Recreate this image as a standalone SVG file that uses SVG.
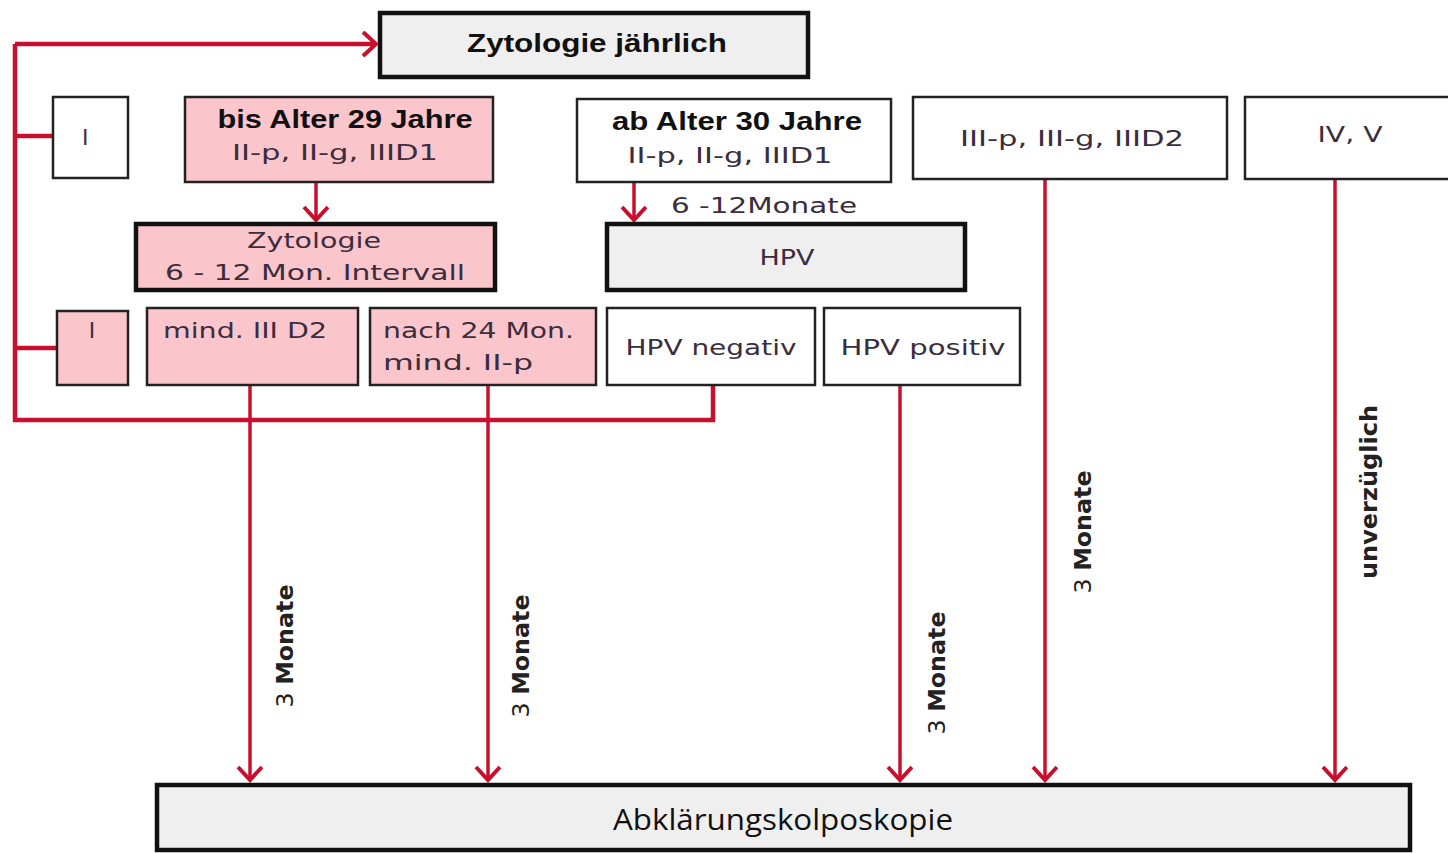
<svg xmlns="http://www.w3.org/2000/svg" width="1448" height="853" viewBox="0 0 1448 853">
<defs>
<marker id="ah" markerUnits="userSpaceOnUse" markerWidth="30" markerHeight="30" refX="15" refY="13" orient="auto" viewBox="0 0 30 30">
<path d="M2,1 L15,13 L2,25" fill="none" stroke="#c8102e" stroke-width="4"/>
</marker>
<style>
.thin{stroke:#222;stroke-width:2.5}
.thick{stroke:#111;stroke-width:4.5}
.pink{fill:#fbc5cc}
.white{fill:#fff}
.gray{fill:#efefef}
.t{font-family:"DejaVu Sans","Liberation Sans",sans-serif;font-size:22px;fill:#3a2e3e}
.b{font-family:"Liberation Sans",sans-serif;font-size:25px;font-weight:bold;fill:#111}
.c{font-family:"Open Sans","Liberation Sans",sans-serif;font-size:29px;fill:#111}
.r{font-family:"DejaVu Sans","Liberation Sans",sans-serif;font-size:23px;fill:#222}
.con{fill:none;stroke:#c8102e;stroke-width:3.5}
.fb{fill:none;stroke:#c8102e;stroke-width:4.5}
</style>
</defs>
<rect width="1448" height="853" fill="#fff"/>

<g id="connectors">
<path class="fb" d="M15,44 H376" marker-end="url(#ah)"/>
<path class="fb" d="M15,44 V420 H713 V385"/>
<path class="fb" d="M15,136 H53"/>
<path class="fb" d="M15,348 H57"/>
<path class="con" d="M316,182 V220" marker-end="url(#ah)"/>
<path class="con" d="M634,182 V220" marker-end="url(#ah)"/>
<path class="con" d="M250,385 V780" marker-end="url(#ah)"/>
<path class="con" d="M488,385 V780" marker-end="url(#ah)"/>
<path class="con" d="M900,385 V780" marker-end="url(#ah)"/>
<path class="con" d="M1045,179 V780" marker-end="url(#ah)"/>
<path class="con" d="M1335,179 V780" marker-end="url(#ah)"/>
<text class="r" transform="translate(293,646) rotate(-90)" text-anchor="middle" textLength="123" lengthAdjust="spacingAndGlyphs">3 <tspan font-weight="bold">Monate</tspan></text>
<text class="r" transform="translate(529,656) rotate(-90)" text-anchor="middle" textLength="123" lengthAdjust="spacingAndGlyphs">3 <tspan font-weight="bold">Monate</tspan></text>
<text class="r" transform="translate(945,673) rotate(-90)" text-anchor="middle" textLength="123" lengthAdjust="spacingAndGlyphs">3 <tspan font-weight="bold">Monate</tspan></text>
<text class="r" transform="translate(1091,532) rotate(-90)" text-anchor="middle" textLength="123" lengthAdjust="spacingAndGlyphs">3 <tspan font-weight="bold">Monate</tspan></text>
<text class="r" transform="translate(1377,492) rotate(-90)" text-anchor="middle" textLength="174" lengthAdjust="spacingAndGlyphs" font-weight="bold">unverzüglich</text>
<text class="t" x="671" y="213" textLength="186" lengthAdjust="spacingAndGlyphs">6 -12Monate</text>
</g>

<g id="zyto-jaehrlich">
<rect class="gray thick" x="380" y="13" width="428" height="64"/>
<text class="b" x="597" y="52" text-anchor="middle" textLength="260" lengthAdjust="spacingAndGlyphs">Zytologie jährlich</text>
</g>

<g id="n-I-top">
<rect class="white thin" x="53" y="97" width="75" height="81"/>
<text class="t" x="82" y="145">I</text>
</g>

<g id="bis29">
<rect class="pink thin" x="185" y="97" width="308" height="85"/>
<text class="b" x="345" y="128" text-anchor="middle" textLength="255" lengthAdjust="spacingAndGlyphs">bis Alter 29 Jahre</text>
<text class="t" x="335" y="160" text-anchor="middle" textLength="206" lengthAdjust="spacingAndGlyphs">II-p, II-g, IIID1</text>
</g>

<g id="zyto-intervall">
<rect class="pink thick" x="136" y="224" width="359" height="66"/>
<text class="t" x="314" y="248" text-anchor="middle" textLength="134" lengthAdjust="spacingAndGlyphs">Zytologie</text>
<text class="t" x="315" y="280" text-anchor="middle" textLength="300" lengthAdjust="spacingAndGlyphs">6 - 12 Mon. Intervall</text>
</g>

<g id="ab30">
<rect class="white thin" x="577" y="99" width="314" height="83"/>
<text class="b" x="737" y="130" text-anchor="middle" textLength="250" lengthAdjust="spacingAndGlyphs">ab Alter 30 Jahre</text>
<text class="t" x="730" y="163" text-anchor="middle" textLength="205" lengthAdjust="spacingAndGlyphs">II-p, II-g, IIID1</text>
</g>

<g id="hpv">
<rect class="gray thick" x="607" y="224" width="358" height="66"/>
<text class="t" x="787" y="265" text-anchor="middle" textLength="55" lengthAdjust="spacingAndGlyphs">HPV</text>
</g>

<g id="iii">
<rect class="white thin" x="913" y="97" width="314" height="82"/>
<text class="t" x="1072" y="146" text-anchor="middle" textLength="224" lengthAdjust="spacingAndGlyphs">III-p, III-g, IIID2</text>
</g>

<g id="ivv">
<rect class="white thin" x="1245" y="97" width="210" height="82"/>
<text class="t" x="1350" y="142" text-anchor="middle" textLength="65" lengthAdjust="spacingAndGlyphs">IV, V</text>
</g>

<g id="n-I-pink">
<rect class="pink thin" x="57" y="311" width="71" height="74"/>
<text class="t" x="92" y="338" text-anchor="middle">I</text>
</g>

<g id="mind-iiid2">
<rect class="pink thin" x="147" y="308" width="211" height="77"/>
<text class="t" x="163" y="338" textLength="164" lengthAdjust="spacingAndGlyphs">mind. III D2</text>
</g>

<g id="nach24">
<rect class="pink thin" x="370" y="308" width="226" height="77"/>
<text class="t" x="383" y="338" textLength="191" lengthAdjust="spacingAndGlyphs">nach 24 Mon.</text>
<text class="t" x="383" y="370" textLength="150" lengthAdjust="spacingAndGlyphs">mind.  II-p</text>
</g>

<g id="hpv-neg">
<rect class="white thin" x="607" y="308" width="208" height="77"/>
<text class="t" x="711" y="355" text-anchor="middle" textLength="171" lengthAdjust="spacingAndGlyphs">HPV negativ</text>
</g>

<g id="hpv-pos">
<rect class="white thin" x="824" y="308" width="196" height="77"/>
<text class="t" x="923" y="355" text-anchor="middle" textLength="165" lengthAdjust="spacingAndGlyphs">HPV positiv</text>
</g>

<g id="kolposkopie">
<rect class="gray thick" x="157" y="785" width="1253" height="65"/>
<text class="c" x="783" y="830" text-anchor="middle" textLength="340" lengthAdjust="spacingAndGlyphs">Abklärungskolposkopie</text>
</g>
</svg>
